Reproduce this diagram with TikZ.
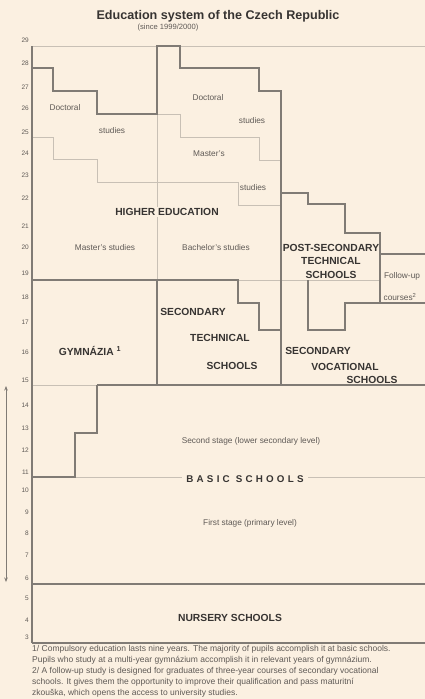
\documentclass[tikz,border=0pt]{standalone}
\usepackage{fontspec}
\setmainfont{Liberation Sans}
\newfontfamily\spacedfont[LetterSpace=33]{Liberation Sans}
\usetikzlibrary{arrows.meta}

\definecolor{paper}{RGB}{251,240,225}
\definecolor{wallgray}{RGB}{128,123,117}
\definecolor{guidegray}{RGB}{200,192,181}
\definecolor{inkgray}{RGB}{55,52,50}
\definecolor{softgray}{RGB}{95,90,86}

\begin{document}
\begin{tikzpicture}[
    x=1pt, y=-1pt,
    every node/.style={inner sep=1pt},
    wall/.style={draw=wallgray, line width=1.7pt, line join=miter},
    guide/.style={draw=guidegray, line width=0.9pt},
    caps/.style={font=\bfseries\fontsize{10.3}{13.5}\selectfont, text=inkgray},
    small/.style={font=\fontsize{8.3}{9}\selectfont, text=softgray},
    age/.style={font=\fontsize{6.5}{7}\selectfont, text=softgray, anchor=east},
    span/.style={{Stealth[length=4.5pt,width=3.5pt]}-{Stealth[length=4.5pt,width=3.5pt]}, draw=wallgray, line width=0.6pt}
  ]
    \fill[paper] (0,0) rectangle (425,699);
    \useasboundingbox (0,0) rectangle (425,699);

    \node[font=\bfseries\fontsize{12.6}{14}\selectfont, text=inkgray] (title) at (218,16) {Education system of the Czech Republic};
    \node[font=\fontsize{7.6}{8}\selectfont, text=softgray] (since) at (168,28) {(since 1999/2000)};

    % age scale
    \foreach \a/\y in {29/40, 28/63, 27/87, 26/108, 25/132, 24/153, 23/175, 22/198, 21/226, 20/247,
                       19/273, 18/297, 17/322, 16/352, 15/380, 14/405, 13/428, 12/450, 11/472, 10/490,
                       9/512, 8/533, 7/555, 6/578, 5/598, 4/620, 3/637}
      \node[age] (age\a) at (30,\y) {\a};

    % thin division lines
    \draw[guide] (32,46) -- (425,46);
    \draw[guide] (32,137) -| (53,159) -| (97,182) -| (238,205) -- (281,205);
    \draw[guide] (157,114) -| (180,137) -| (259,160) -- (281,160);
    \draw[guide] (157,114) -- (157,280);
    \draw[guide] (238,280) -- (380,280);
    \draw[guide] (32,385) -- (97,385);
    \draw[guide] (75,477) -- (425,477);

    % school outlines
    \draw[wall] (32,68) -| (53,91) -| (97,114) -| (157,46) -| (180,68) -| (259,91) -| (281,385);
    \draw[wall] (32,280) -| (238,303) -| (259,330) -- (281,330);
    \draw[wall] (157,280) -- (157,385);
    \draw[wall] (281,193) -| (308,204) -| (345,233) -| (380,303);
    \draw[wall] (380,254) -- (425,254);
    \draw[wall] (308,280) |- (345,330) |- (425,303);
    \draw[wall] (97,385) -- (425,385);
    \draw[wall] (97,385) |- (75,433) |- (32,477);
    \draw[wall] (32,584) -- (425,584);
    \draw[wall] (32,643) -- (425,643);
    \draw[wall] (32,46) -- (32,643);

    \node[small] (doc1) at (65,108) {Doctoral};
    \node[small] (stud1) at (112,131) {studies};
    \node[small] (doc2) at (208,98) {Doctoral};
    \node[small] (stud2) at (252,121) {studies};
    \node[small] (mast2) at (209,154) {Master's};
    \node[small] (stud3) at (253,188) {studies};
    \node[caps, fill=paper, inner xsep=2pt] (higher) at (167,212) {HIGHER EDUCATION};
    \node[small] (masters) at (105,248) {Master's studies};
    \node[small] (bachelors) at (216,248) {Bachelor's studies};

    \node[caps, align=center] (postsec) at (331,261) {POST-SECONDARY\\TECHNICAL\\SCHOOLS};
    \node[small] (follow) at (402,276) {Follow-up};
    \node[small] (courses) at (400,297) {courses\textsuperscript{2}};

    \node[caps] (gym) at (90,351) {GYMNÁZIA \textsuperscript{1}};
    \node[caps] (tech1) at (193,312) {SECONDARY};
    \node[caps] (tech2) at (220,338) {TECHNICAL};
    \node[caps] (tech3) at (232,366) {SCHOOLS};
    \node[caps] (voc1) at (318,351) {SECONDARY};
    \node[caps] (voc2) at (345,367) {VOCATIONAL};
    \node[caps] (voc3) at (372,380) {SCHOOLS};

    \node[small] (second) at (251,441) {Second stage (lower secondary level)};
    \node[caps, font=\spacedfont\bfseries\fontsize{9.8}{11}\selectfont, fill=paper, inner xsep=4pt] (basic) at (245,479) {BASIC SCHOOLS};
    \node[small] (first) at (250,523) {First stage (primary level)};
    \node[caps] (nursery) at (230,618) {NURSERY SCHOOLS};

    % compulsory span
    \coordinate (cstart) at (6,386);
    \coordinate (cend) at (6,582);
    \draw[span] (cstart) -- (cend);

    \node[font=\fontsize{8.5}{10.8}\selectfont, text=softgray, anchor=north west, align=left] (notes) at (31,644.5)
      {1/ Compulsory education lasts nine years. The majority of pupils accomplish it at basic schools.\\
       Pupils who study at a multi-year gymnázium accomplish it in relevant years of gymnázium.\\
       2/ A follow-up study is designed for graduates of three-year courses of secondary vocational\\
       schools. It gives them the opportunity to improve their qualification and pass maturitní\\
       zkouška, which opens the access to university studies.};
  \end{tikzpicture}
\end{document}
